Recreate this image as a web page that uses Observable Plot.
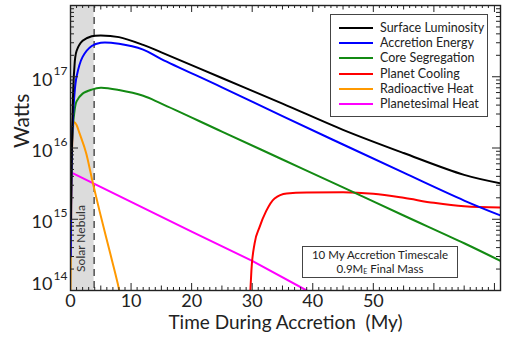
<!DOCTYPE html>
<html><head><meta charset="utf-8">
<script src="https://cdn.jsdelivr.net/npm/d3@7"></script>
<script src="https://cdn.jsdelivr.net/npm/@observablehq/plot@0.6"></script>
<style>
body{margin:0;background:#fff;}
#wrap{position:relative;width:510px;height:340px;font-family:Lato, "Open Sans", sans-serif;color:#222;}
.legend{position:absolute;left:330px;top:14px;width:158px;height:103px;border:1.5px solid #444;background:#fff;box-sizing:border-box;}
.row{position:absolute;left:0;height:15px;width:156px;}
.sw{position:absolute;left:8px;top:6px;width:34px;height:0;border-top:2.5px solid #000;}
.lab{position:absolute;left:49px;top:-1px;font-size:12.5px;white-space:nowrap;color:#222;}
.note{position:absolute;left:302px;top:246px;width:156px;height:32px;border:1.5px solid #444;background:#fff;box-sizing:border-box;font-size:11.5px;line-height:14px;text-align:center;padding-top:1px;color:#222;}
.note sub{font-size:7px;line-height:0;vertical-align:-1px;}
</style></head><body><div id="wrap"></div>
<script>
// ---- data ----
const seriesNames = ["Surface Luminosity","Accretion Energy","Core Segregation","Planet Cooling","Radioactive Heat","Planetesimal Heat"];
const seriesColors = ["#000000","#0000ff","#138a13","#ff0000","#ff9900","#ff00ff"];

const surfaceT = [0.05, 0.3, 0.6, 1, 2, 3.5, 5, 8, 12, 15, 25, 35, 45, 55, 65, 71];
const surfaceW = [1e15, 2e16, 1.2e17, 2.3e17, 3.2e17, 3.7e17, 3.8e17, 3.6e17, 2.8e17, 2.2e17, 9.6e16, 4.2e16, 1.8e16, 8.5e15, 4.2e15, 3.2e15];

const accretionT = [0.05, 0.3, 0.6, 1, 2, 3.5, 5, 8, 12, 15, 25, 35, 45, 55, 65, 71];
const accretionW = [3e14, 1.5e16, 5e16, 1e17, 1.9e17, 2.7e17, 3e17, 2.9e17, 2.4e17, 1.77e17, 7.1e16, 2.8e16, 1.12e16, 4.5e15, 1.83e15, 1.13e15];

const coreT = [0.05, 0.3, 0.6, 1, 2, 3.5, 5, 8, 12, 15, 25, 35, 45, 55, 65, 71];
const coreW = [2e15, 1.5e16, 3e16, 4.5e16, 5.8e16, 6.6e16, 7e16, 6.5e16, 5.4e16, 4.2e16, 1.7e16, 6.9e15, 2.8e15, 1.13e15, 4.6e14, 2.6e14];

const coolingT = [29.4, 29.7, 29.87, 30.4, 31.2, 32.3, 33.7, 35.7, 39, 45, 50, 55, 60, 65, 71];
const coolingW = [5e13, 1e14, 1.9e14, 4.6e14, 7.7e14, 1.3e15, 1.96e15, 2.3e15, 2.38e15, 2.4e15, 2.28e15, 2.0e15, 1.7e15, 1.52e15, 1.46e15];

const radioT = [0, 0.3, 0.66, 1, 1.5, 2.6, 3.7, 4.8, 6.45, 7.8, 8.3];
const radioW = [1e14, 1.2e16, 2.3e16, 2.1e16, 1.6e16, 8.4e15, 3.2e15, 1.3e15, 3.6e14, 1.25e14, 8e13];

const planetesimalT = [0, 10, 20, 30, 39];
const planetesimalW = [4.6e15, 1.75e15, 6.7e14, 2.6e14, 1e14];

const nebula = [{start: 0, end: 3.9, label: "Solar Nebula"}];

const xMajor = [0, 10, 20, 30, 40, 50];
const xTickLabels = ["0", "10", "20", "30", "40", "50"];
const yMajor = [1e14, 1e15, 1e16, 1e17];
const yExpLabels = ["14", "15", "16", "17"];

const noteLine1 = "10 My Accretion Timescale";
const noteLine2 = ["0.9M", "E", " Final Mass"];
const xLabel = "Time During Accretion  (My)";
const yLabel = "Watts";

// ---- build ----
const toRows = (T, W) => T.map((t, i) => ({t, w: W[i]}));
const sets = [
  toRows(surfaceT, surfaceW), toRows(accretionT, accretionW), toRows(coreT, coreW),
  toRows(coolingT, coolingW), toRows(radioT, radioW), toRows(planetesimalT, planetesimalW)
];
const curves = ["catmull-rom", "catmull-rom", "catmull-rom", "monotone-x", "monotone-x", "linear"];

const W = 510, H = 340, mL = 70, mR = 10, mT = 5, mB = 50;
const pw = W - mL - mR, ph = H - mT - mB;

const xMinor = d3.range(0, 72, 1).filter(v => v % 5 !== 0);
const xMid = [5, 15, 25, 35, 45, 55, 65];
const xMaj = [0, 10, 20, 30, 40, 50, 60, 70];
const yMinor = [];
for (let e = 14; e < 18; e++) for (let k = 2; k <= 9; k++) yMinor.push(k * 10 ** e);

const drawOrder = [5, 4, 3, 2, 1, 0];
const lineMarks = drawOrder.map(i => Plot.line(sets[i], {x: "t", y: "w", stroke: seriesColors[i], strokeWidth: 2, curve: curves[i], clip: true}));

const yLabMain = yMajor.slice(1).map((v, i) => ({v, e: yExpLabels[i + 1]}));
const yLabBottom = [{v: yMajor[0], e: yExpLabels[0]}];

const chart = Plot.plot({
  width: W, height: H,
  marginLeft: mL, marginRight: mR, marginTop: mT, marginBottom: mB,
  style: {fontFamily: "Lato, 'Open Sans', sans-serif", color: "#222", background: "#fff"},
  x: {domain: [0, 71], axis: null},
  y: {type: "log", domain: [1e14, 1e18], axis: null},
  marks: [
    Plot.rect(nebula, {x1: "start", x2: "end", fill: "#dcdcdc"}),
    Plot.ruleX(nebula, {x: "end", stroke: "#333", strokeWidth: 1.3, strokeDasharray: "7,5"}),
    Plot.text(nebula, {x: d => (d.start + d.end) / 2, text: "label", frameAnchor: "bottom", dy: -52, dx: 3, rotate: -90, fontSize: 12, fill: "#333"}),
    ...lineMarks,
    // ticks: bottom/top
    Plot.tickX(xMinor, {x: d => d, insetTop: ph - 3, stroke: "#222"}),
    Plot.tickX(xMid, {x: d => d, insetTop: ph - 4.5, stroke: "#222"}),
    Plot.tickX(xMaj, {x: d => d, insetTop: ph - 7, stroke: "#222"}),
    Plot.tickX(xMinor, {x: d => d, insetBottom: ph - 3, stroke: "#222"}),
    Plot.tickX(xMid, {x: d => d, insetBottom: ph - 4.5, stroke: "#222"}),
    Plot.tickX(xMaj, {x: d => d, insetBottom: ph - 7, stroke: "#222"}),
    // ticks: left/right
    Plot.tickY(yMinor, {y: d => d, insetRight: pw - 4, stroke: "#222"}),
    Plot.tickY(yMajor, {y: d => d, insetRight: pw - 8, stroke: "#222"}),
    Plot.tickY(yMinor, {y: d => d, insetLeft: pw - 4, stroke: "#222"}),
    Plot.tickY(yMajor, {y: d => d, insetLeft: pw - 8, stroke: "#222"}),
    Plot.frame({stroke: "#222", strokeWidth: 1.4}),
    // tick labels
    Plot.text(xMajor, {x: d => d, text: (d, i) => xTickLabels[i], frameAnchor: "bottom", dy: 16, fontSize: 18, fill: "#222"}),
    Plot.text(yLabMain, {y: "v", text: () => "10", frameAnchor: "left", dx: -18, dy: 3, textAnchor: "end", fontSize: 18, fill: "#222"}),
    Plot.text(yLabMain, {y: "v", text: "e", frameAnchor: "left", dx: -17, dy: -6, textAnchor: "start", fontSize: 12, fill: "#222"}),
    Plot.text(yLabBottom, {y: "v", text: () => "10", frameAnchor: "left", dx: -18, dy: -6, textAnchor: "end", fontSize: 18, fill: "#222"}),
    Plot.text(yLabBottom, {y: "v", text: "e", frameAnchor: "left", dx: -17, dy: -14, textAnchor: "start", fontSize: 12, fill: "#222"}),
    // axis titles
    Plot.text([yLabel], {text: d => d, frameAnchor: "left", dx: -48, rotate: -90, fontSize: 21, fill: "#222"}),
    Plot.text([xLabel], {text: d => d, frameAnchor: "bottom", dy: 38, fontSize: 19, fill: "#222"})
  ]
});

const wrap = document.getElementById("wrap");
wrap.appendChild(chart);

// legend
const leg = document.createElement("div");
leg.className = "legend";
seriesNames.forEach((name, i) => {
  const row = document.createElement("div");
  row.className = "row";
  row.style.top = (6 + i * 15.2) + "px";
  const sw = document.createElement("div");
  sw.className = "sw";
  sw.style.borderTopColor = seriesColors[i];
  const lab = document.createElement("div");
  lab.className = "lab";
  lab.textContent = name;
  row.appendChild(sw); row.appendChild(lab);
  leg.appendChild(row);
});
wrap.appendChild(leg);

// annotation box
const note = document.createElement("div");
note.className = "note";
const l1 = document.createElement("div");
l1.textContent = noteLine1;
const l2 = document.createElement("div");
l2.append(noteLine2[0]);
const sub = document.createElement("sub"); sub.textContent = noteLine2[1];
l2.append(sub);
l2.append(noteLine2[2]);
note.appendChild(l1); note.appendChild(l2);
wrap.appendChild(note);
</script>
</body></html>
